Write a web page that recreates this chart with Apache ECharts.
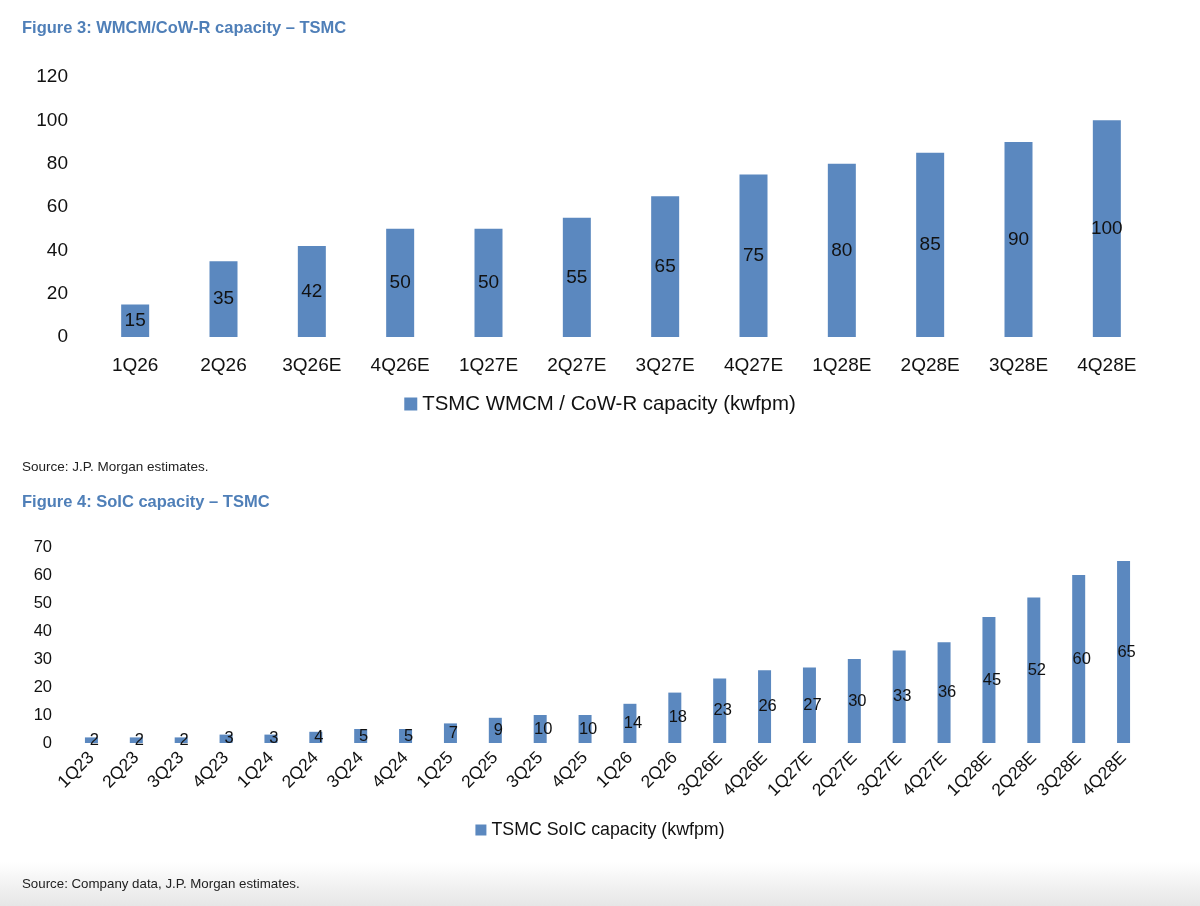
<!DOCTYPE html>
<html>
<head>
<meta charset="utf-8">
<script src="https://cdn.jsdelivr.net/npm/echarts@6/dist/echarts.min.js"></script>
<style>html,body{margin:0;padding:0;background:#fff;}#c{width:1200px;height:906px;}</style>
</head>
<body>
<div id="c"></div>
<script>
const cats1 = ['1Q26','2Q26','3Q26E','4Q26E','1Q27E','2Q27E','3Q27E','4Q27E','1Q28E','2Q28E','3Q28E','4Q28E'];
const vals1 = [15,35,42,50,50,55,65,75,80,85,90,100];
const name1 = 'TSMC WMCM / CoW-R capacity (kwfpm)';
const cats2 = ['1Q23','2Q23','3Q23','4Q23','1Q24','2Q24','3Q24','4Q24','1Q25','2Q25','3Q25','4Q25','1Q26','2Q26','3Q26E','4Q26E','1Q27E','2Q27E','3Q27E','4Q27E','1Q28E','2Q28E','3Q28E','4Q28E'];
const vals2 = [2,2,2,3,3,4,5,5,7,9,10,10,14,18,23,26,27,30,33,36,45,52,60,65];
const name2 = 'TSMC SoIC capacity (kwfpm)';
const title1 = 'Figure 3: WMCM/CoW-R capacity – TSMC';
const source1 = 'Source: J.P. Morgan estimates.';
const title2 = 'Figure 4: SoIC capacity – TSMC';
const source2 = 'Source: Company data, J.P. Morgan estimates.';

const FONT = "'Liberation Sans', Arial, sans-serif";
const BAR = '#5b88bf';
const TITLE = '#4f7fb8';
const chart = echarts.init(document.getElementById('c'));
chart.setOption({
  backgroundColor: '#fff',
  animation: false,
  textStyle: { fontFamily: FONT },
  graphic: [{
    type: 'rect', left: 0, top: 862, shape: { width: 1200, height: 44 }, silent: true, z: -10,
    style: { fill: new echarts.graphic.LinearGradient(0, 0, 0, 1, [{offset: 0, color: '#ffffff'}, {offset: 1, color: '#e6e6e6'}]) }
  }],
  title: [
    { text: title1, left: 17, top: 15, textStyle: { fontFamily: FONT, fontSize: 16.5, fontWeight: 'bold', color: TITLE } },
    { text: source1, left: 17, top: 455, textStyle: { fontFamily: FONT, fontSize: 13.5, fontWeight: 'normal', color: '#222' } },
    { text: title2, left: 17, top: 489, textStyle: { fontFamily: FONT, fontSize: 16.5, fontWeight: 'bold', color: TITLE } },
    { text: source2, left: 17, top: 873, textStyle: { fontFamily: FONT, fontSize: 13.3, fontWeight: 'normal', color: '#222' } }
  ],
  legend: [
    { data: [name1], left: 'center', top: 389, icon: 'rect', itemWidth: 13, itemHeight: 13, itemGap: 5,
      textStyle: { fontFamily: FONT, fontSize: 20.4, color: '#111' } },
    { data: [name2], left: 'center', top: 816, icon: 'rect', itemWidth: 11, itemHeight: 11, itemGap: 4,
      textStyle: { fontFamily: FONT, fontSize: 17.8, color: '#111' } }
  ],
  grid: [
    { left: 91, right: 49, top: 77, height: 260 },
    { left: 69, right: 54, top: 547, height: 196 }
  ],
  xAxis: [
    { type: 'category', gridIndex: 0, data: cats1, axisLine: { show: false }, axisTick: { show: false },
      axisLabel: { fontFamily: FONT, fontSize: 19, color: '#111', margin: 19, interval: 0 } },
    { type: 'category', gridIndex: 1, data: cats2, axisLine: { show: false }, axisTick: { show: false },
      axisLabel: { fontFamily: FONT, fontSize: 17.5, color: '#111', margin: 12, interval: 0, rotate: 45 } }
  ],
  yAxis: [
    { type: 'value', gridIndex: 0, min: 0, max: 120, interval: 20, splitLine: { show: false },
      axisLine: { show: false }, axisTick: { show: false },
      axisLabel: { fontFamily: FONT, fontSize: 19, color: '#111', margin: 23 } },
    { type: 'value', gridIndex: 1, min: 0, max: 70, interval: 10, splitLine: { show: false },
      axisLine: { show: false }, axisTick: { show: false },
      axisLabel: { fontFamily: FONT, fontSize: 16.5, color: '#111', margin: 17 } }
  ],
  series: [
    { name: name1, type: 'bar', xAxisIndex: 0, yAxisIndex: 0, data: vals1, barWidth: 28,
      itemStyle: { color: BAR },
      label: { show: true, position: 'inside', fontFamily: FONT, fontSize: 19, color: '#111' } },
    { name: name2, type: 'bar', xAxisIndex: 1, yAxisIndex: 1, data: vals2, barWidth: 13,
      itemStyle: { color: BAR },
      label: { show: true, position: 'inside', offset: [3, 0], fontFamily: FONT, fontSize: 16.5, color: '#111' } }
  ]
});
</script>
</body>
</html>
